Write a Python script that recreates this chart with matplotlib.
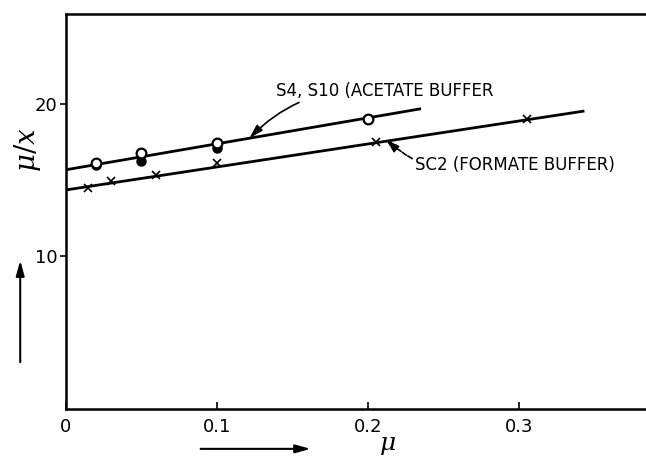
import matplotlib
matplotlib.use("Agg")
import matplotlib.pyplot as plt
from matplotlib import font_manager

# Ionic strength series (acetate buffer, S4 / S10)
mu_open = [0.02, 0.05, 0.10, 0.20]
ratio_open = [16.15, 16.8, 17.45, 19.02]
mu_filled = [0.02, 0.05, 0.10]
ratio_filled = [15.98, 16.22, 17.13]
acetate_fit_mu = [0.0, 0.235]
acetate_fit_ratio = [15.67, 19.67]

# Formate buffer series (SC2)
mu_cross = [0.015, 0.03, 0.06, 0.10, 0.205, 0.305]
ratio_cross = [14.48, 14.92, 15.35, 16.09, 17.46, 19.02]
formate_fit_mu = [0.0, 0.343]
formate_fit_ratio = [14.35, 19.52]

x_ticks = [0, 0.1, 0.2, 0.3]
x_tick_labels = ["0", "0.1", "0.2", "0.3"]
y_ticks = [10, 20]
y_tick_labels = ["10", "20"]

label_acetate = "S4, S10 (ACETATE BUFFER"
label_formate = "SC2 (FORMATE BUFFER)"

names = {f.name for f in font_manager.fontManager.ttflist}
narrow = "Liberation Sans Narrow" if "Liberation Sans Narrow" in names else "DejaVu Sans"
plt.rcParams["font.family"] = [narrow, "DejaVu Sans"]
plt.rcParams["mathtext.fontset"] = "dejavuserif"

fig = plt.figure(figsize=(6.46, 4.57), dpi=100)
ax = fig.add_axes([0.1014, 0.1044, 0.8986, 0.866])

lw = 2.0
ax.plot(acetate_fit_mu, acetate_fit_ratio, color="black", lw=lw, solid_capstyle="butt")
ax.plot(formate_fit_mu, formate_fit_ratio, color="black", lw=lw, solid_capstyle="butt")
ax.plot(mu_filled, ratio_filled, "o", ms=6.5, mfc="black", mec="black", zorder=3)
ax.plot(mu_open, ratio_open, "o", ms=7, mfc="white", mec="black", mew=1.6, zorder=4)
ax.plot(mu_cross, ratio_cross, "x", ms=5.5, color="black", mew=1.2, zorder=4)

ax.set_xlim(0, 0.3837)
ax.set_ylim(0, 25.9)

ax.spines["right"].set_visible(False)
for side in ("left", "bottom", "top"):
    ax.spines[side].set_linewidth(1.8)

ax.set_xticks(x_ticks)
ax.set_xticklabels(x_tick_labels, fontsize=13)
ax.set_yticks(y_ticks)
ax.set_yticklabels(y_tick_labels, fontsize=13)
ax.tick_params(axis="x", direction="in", length=5, width=1.2, pad=6)
ax.tick_params(axis="y", direction="out", length=4, width=1.2, pad=2)

# axis labels
ax.text(-0.066, 0.655, r"$\mu/x$", rotation=90, transform=ax.transAxes,
        ha="center", va="center", fontsize=20)
ax.text(0.555, -0.09, r"$\mu$", transform=ax.transAxes,
        ha="center", va="center", fontsize=18)

# direction arrows beside the axes
arrow_kw = dict(arrowstyle="-|>,head_length=0.9,head_width=0.25", color="black", lw=1.5)
ax.annotate("", xy=(-0.078, 0.383), xytext=(-0.078, 0.112),
            xycoords="axes fraction", textcoords="axes fraction",
            arrowprops=arrow_kw, annotation_clip=False)
ax.annotate("", xy=(0.427, -0.10), xytext=(0.228, -0.10),
            xycoords="axes fraction", textcoords="axes fraction",
            arrowprops=arrow_kw, annotation_clip=False)

# curve labels with curved leaders
lead_kw = dict(arrowstyle="-|>,head_length=0.7,head_width=0.2", color="black", lw=1.2,
               shrinkA=0, shrinkB=0)
ax.annotate(label_acetate, xy=(0.1215, 17.73), xytext=(0.139, 20.85),
            fontsize=12, ha="left", va="center",
            arrowprops=dict(connectionstyle="arc3,rad=0.25", **lead_kw))
ax.annotate(label_formate, xy=(0.2115, 17.68), xytext=(0.231, 16.0),
            fontsize=12, ha="left", va="center",
            arrowprops=dict(connectionstyle="arc3,rad=-0.3", linestyle=(0, (3, 1)), **lead_kw))

fig.savefig("out.png", dpi=100)
